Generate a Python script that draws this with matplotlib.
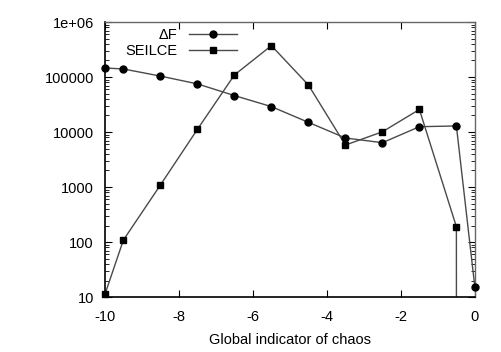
import numpy as np
import matplotlib.pyplot as plt
from matplotlib.lines import Line2D

plt.rcParams['font.family'] = ['Liberation Sans', 'DejaVu Sans']
plt.rcParams['axes.unicode_minus'] = False

# x positions of the samples
X = [-10, -9.5, -8.5, -7.5, -6.5, -5.5, -4.5, -3.5, -2.5, -1.5, -0.5, 0]
# Delta F series
DELTA_F = [146000, 140000, 104000, 75000, 46000, 29000, 15000, 7800, 6400, 12500, 12900, 15]
# SEILCE series (last value drops to zero)
SEILCE = [11.2, 109, 1090, 11200, 109000, 372000, 71600, 5800, 10100, 25700, 190, 0]

YTICKS = [10, 100, 1000, 10000, 100000, 1000000]
YLABELS = ['10', '100', '1000', '10000', '100000', '1e+06']

fig = plt.figure(figsize=(5.02, 3.52), dpi=100)
ax = fig.add_axes([0.209, 0.156, 0.737, 0.7815])
ax.set_yscale('log')
ax.set_xlim(-10, 0)
ax.set_ylim(10, 1e6)

lc = '#4a4a4a'
ms = 5
ax.plot(X, DELTA_F, '-', color=lc, lw=1.0, marker='o', ms=ms,
        mfc='black', mec='black', clip_on=False, zorder=3)

# SEILCE: line clipped (goes to zero), markers unclipped
ax.plot(X, SEILCE, '-', color=lc, lw=1.0, zorder=2)
xs = [x for x, v in zip(X, SEILCE) if v > 0]
vs = [v for v in SEILCE if v > 0]
ax.plot(xs, vs, 's', ms=ms, mfc='black', mec='black', clip_on=False, zorder=3)

handles = [
    Line2D([], [], color=lc, lw=1.0, marker='o', ms=ms, mfc='black', mec='black'),
    Line2D([], [], color=lc, lw=1.0, marker='s', ms=ms, mfc='black', mec='black'),
]
ax.legend(handles, ['ΔF', 'SEILCE'], loc='upper left', bbox_to_anchor=(0.028, 1.015),
          frameon=False, markerfirst=False, fontsize=10.5, handlelength=3.3,
          handletextpad=0.8, labelspacing=0.15, borderaxespad=0.3)

ax.set_yticks(YTICKS)
ax.set_yticklabels(YLABELS)
ax.set_xticks(np.arange(-10, 1, 2))
ax.tick_params(which='both', direction='in', top=True, right=True, labelsize=10.5)
ax.tick_params(which='major', length=5, width=0.8)
ax.tick_params(which='minor', length=3, width=0.6)
ax.tick_params(axis='y', pad=8)
ax.tick_params(axis='x', pad=9)
ax.xaxis.set_minor_locator(plt.NullLocator())

for side in ['top', 'right']:
    ax.spines[side].set_color('#666666')
    ax.spines[side].set_linewidth(1.0)
for side in ['left', 'bottom']:
    ax.spines[side].set_color('black')
    ax.spines[side].set_linewidth(1.2)

ax.set_xlabel('Global indicator of chaos', fontsize=10.5, labelpad=7)

fig.savefig('out.png', dpi=100)
